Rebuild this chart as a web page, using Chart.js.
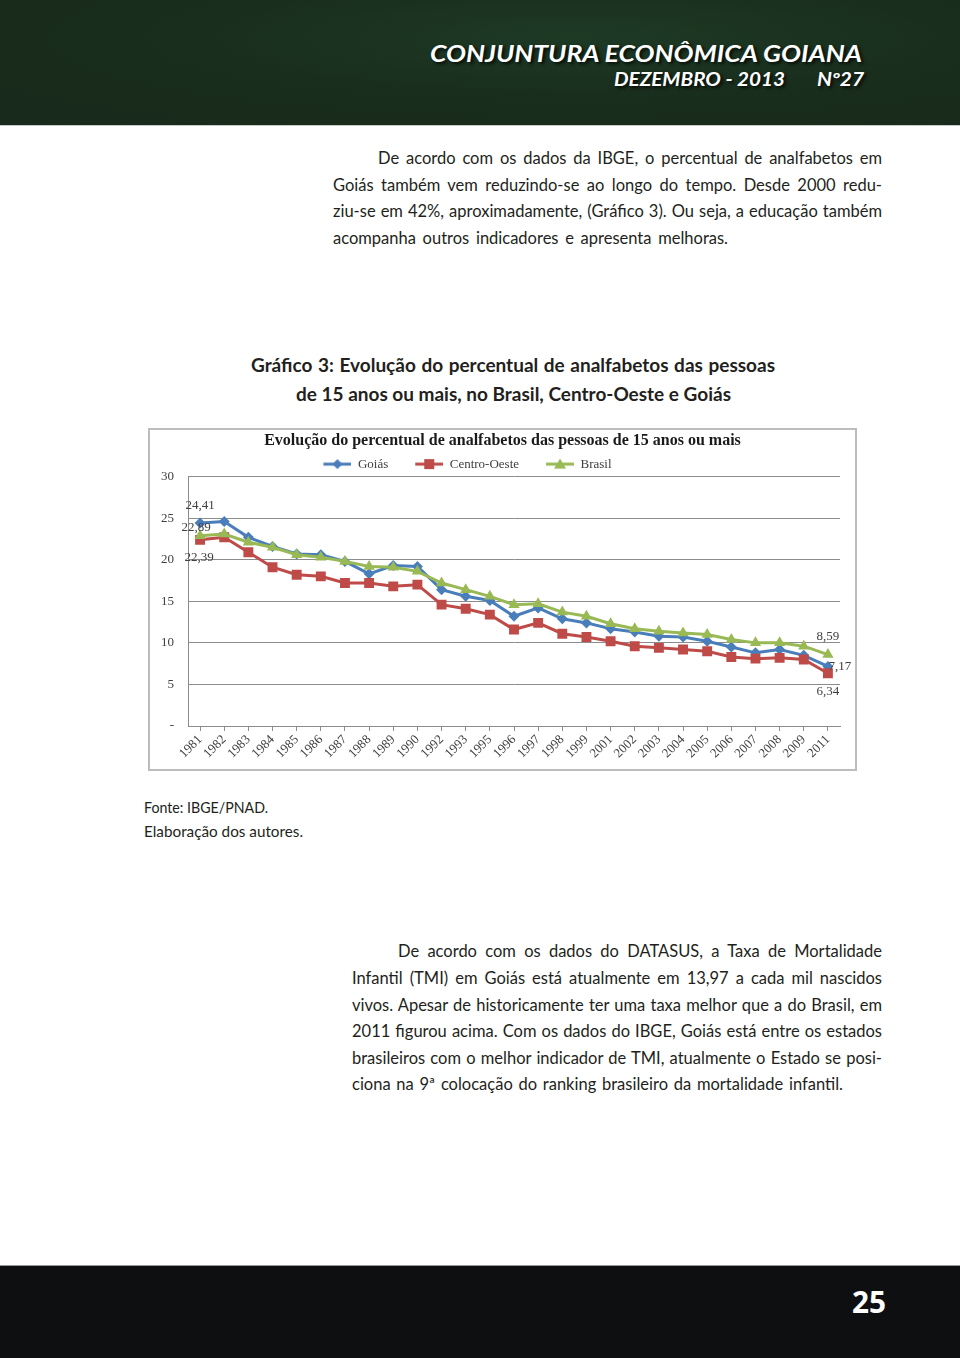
<!DOCTYPE html>
<html lang="pt-br">
<head>
<meta charset="UTF-8">
<title>Conjuntura Econômica Goiana | Gráfico 3</title>
<script src="https://cdn.jsdelivr.net/npm/chart.js@4"></script>
<style>
    * { margin: 0; padding: 0; }
    body { width: 960px; height: 1358px; position: relative; background: #fff; overflow: hidden; }
    .linha { position: absolute; white-space: nowrap; line-height: 1; color: #231f20; transform-origin: 0 0; }

    .topo {
        position: absolute; left: 0; top: 0; width: 960px; height: 125px;
        background: radial-gradient(ellipse at 60% 30%, #1d3a25 0%, #1a2e1d 45%, #182a1b 100%);
        border-bottom: 1px solid #c8c8c8;
    }
    .topo .linha { color: #fff; font-family: Lato, sans-serif; font-weight: 700; font-style: italic; text-shadow: 2px 2px 3px rgba(0, 0, 0, 0.8); }
    .t1 { font-size: 22.5px; }
    .t2 { font-size: 18px; }

    .texto { font-family: Lato, sans-serif; font-size: 16.5px; }
    .titulo { font-family: Lato, sans-serif; font-weight: 700; font-size: 19px; }
    .fonte { font-family: Lato, sans-serif; font-size: 15px; }

    .moldura { position: absolute; left: 148px; top: 428px; width: 709px; height: 343px; box-sizing: border-box; border: 2px solid #bdbdbd; }
    #grafico { position: absolute; left: 150px; top: 430px; }

    .rodape { position: absolute; left: 0; top: 1265px; width: 960px; height: 93px; background: #0e0f11; border-top: 1px solid #9a9a9a; }
    .pagina { color: #fff; font-family: "Open Sans", sans-serif; font-weight: 700; font-size: 30px; }
</style>
</head>
<body>

    <div class="topo">
        <div class="linha t1" style="left:430px; top:43px" data-w="432" data-modo="escala">CONJUNTURA ECONÔMICA GOIANA</div>
        <div class="linha t2" style="left:614px; top:70px" data-w="171" data-modo="escala">DEZEMBRO - 2013</div>
        <div class="linha t2" style="left:817px; top:70px" data-w="47" data-modo="escala">Nº27</div>
    </div>

    <div class="linha texto" style="left:378px; top:150px" data-w="504">De acordo com os dados da IBGE, o percentual de analfabetos em</div>
    <div class="linha texto" style="left:333px; top:176.7px" data-w="549">Goiás também vem reduzindo-se ao longo do tempo. Desde 2000 redu-</div>
    <div class="linha texto" style="left:333px; top:203.3px" data-w="549">ziu-se em 42%, aproximadamente, (Gráfico 3). Ou seja, a educação também</div>
    <div class="linha texto" style="left:333px; top:230px" data-w="395">acompanha outros indicadores e apresenta melhoras.</div>

    <div class="linha titulo" style="left:251px; top:355px" data-w="524">Gráfico 3: Evolução do percentual de analfabetos das pessoas</div>
    <div class="linha titulo" style="left:296px; top:384px" data-w="435">de 15 anos ou mais, no Brasil, Centro-Oeste e Goiás</div>

    <div class="moldura"></div>
    <canvas id="grafico" width="705" height="339"></canvas>

    <div class="linha fonte" style="left:144px; top:800px" data-w="124" data-modo="escala">Fonte: IBGE/PNAD.</div>
    <div class="linha fonte" style="left:144px; top:824px" data-w="159" data-modo="escala">Elaboração dos autores.</div>

    <div class="linha texto" style="left:398px; top:943.4px" data-w="484">De acordo com os dados do DATASUS, a Taxa de Mortalidade</div>
    <div class="linha texto" style="left:352px; top:970px" data-w="530">Infantil (TMI) em Goiás está atualmente em 13,97 a cada mil nascidos</div>
    <div class="linha texto" style="left:352px; top:996.6px" data-w="530">vivos. Apesar de historicamente ter uma taxa melhor que a do Brasil, em</div>
    <div class="linha texto" style="left:352px; top:1023.2px" data-w="530">2011 figurou acima. Com os dados do IBGE, Goiás está entre os estados</div>
    <div class="linha texto" style="left:352px; top:1049.8px" data-w="530">brasileiros com o melhor indicador de TMI, atualmente o Estado se posi-</div>
    <div class="linha texto" style="left:352px; top:1076.4px" data-w="491">ciona na 9ª colocação do ranking brasileiro da mortalidade infantil.</div>

    <div class="rodape"></div>
    <div class="linha pagina" style="left:852px; top:1287px" data-w="34" data-modo="escala">25</div>

<script>
    // dados (IBGE/PNAD)
    const anos = ['1981', '1982', '1983', '1984', '1985', '1986', '1987', '1988', '1989', '1990',
        '1992', '1993', '1995', '1996', '1997', '1998', '1999', '2001', '2002', '2003',
        '2004', '2005', '2006', '2007', '2008', '2009', '2011'];
    const goias = [24.41, 24.6, 22.7, 21.6, 20.7, 20.6, 19.8, 18.3, 19.3, 19.2,
        16.4, 15.6, 15.1, 13.2, 14.2, 12.9, 12.4, 11.7, 11.3, 10.8,
        10.7, 10.2, 9.5, 8.8, 9.2, 8.5, 7.17];
    const centroOeste = [22.39, 22.7, 20.9, 19.1, 18.2, 18.0, 17.2, 17.2, 16.8, 17.0,
        14.6, 14.1, 13.4, 11.6, 12.4, 11.1, 10.7, 10.2, 9.6, 9.4,
        9.2, 9.0, 8.3, 8.1, 8.2, 8.0, 6.34];
    const brasil = [22.89, 23.1, 22.1, 21.5, 20.6, 20.3, 19.8, 19.2, 19.1, 18.6,
        17.2, 16.4, 15.6, 14.6, 14.7, 13.7, 13.2, 12.3, 11.7, 11.4,
        11.2, 11.0, 10.4, 10.0, 10.0, 9.6, 8.59];
    const nomesSeries = ['Goiás', 'Centro-Oeste', 'Brasil'];

    const AZUL = '#4a7ebb';
    const VERMELHO = '#be4b48';
    const VERDE = '#98b954';
    const FONTE_SERIF = '"Liberation Serif", "Times New Roman", serif';

    // ícone da legenda: linha com o marcador no meio (com margem à esquerda)
    function iconeLegenda(cor, estilo) {
        const margem = 23;
        const c = document.createElement('canvas');
        c.width = margem + 28;
        c.height = 14;
        const ctx = c.getContext('2d');
        ctx.strokeStyle = cor;
        ctx.fillStyle = cor;
        ctx.lineWidth = 3;
        ctx.beginPath();
        ctx.moveTo(margem, 7);
        ctx.lineTo(margem + 28, 7);
        ctx.stroke();
        const cx = margem + 14;
        ctx.beginPath();
        if (estilo === 'losango') {
            ctx.moveTo(cx, 2); ctx.lineTo(cx + 5, 7); ctx.lineTo(cx, 12); ctx.lineTo(cx - 5, 7);
        } else if (estilo === 'quadrado') {
            ctx.rect(cx - 5, 2, 10, 10);
        } else {
            ctx.moveTo(cx, 1.5); ctx.lineTo(cx + 6, 11.5); ctx.lineTo(cx - 6, 11.5);
        }
        ctx.closePath();
        ctx.fill();
        return c;
    }
    const icones = [iconeLegenda(AZUL, 'losango'), iconeLegenda(VERMELHO, 'quadrado'), iconeLegenda(VERDE, 'triangulo')];

    // rótulos no primeiro e no último ponto de cada série
    const rotulosPontas = {
        id: 'rotulosPontas',
        afterDatasetsDraw(chart) {
            const ctx = chart.ctx;
            ctx.save();
            ctx.font = '13px ' + FONTE_SERIF;
            ctx.fillStyle = '#404040';
            ctx.textAlign = 'center';
            ctx.textBaseline = 'middle';
            chart.data.datasets.forEach((ds, i) => {
                const pontos = chart.getDatasetMeta(i).data;
                const ultimo = pontos.length - 1;
                [[0, ds.deslocInicio], [ultimo, ds.deslocFim]].forEach(([k, d]) => {
                    const texto = ds.data[k].toFixed(2).replace('.', ',');
                    ctx.fillText(texto, pontos[k].x + d[0], pontos[k].y + d[1]);
                });
            });
            ctx.restore();
        }
    };

    // título centrado na moldura; legenda um pouco à esquerda e mais perto do gráfico
    const ajusteCabecalho = {
        id: 'ajusteCabecalho',
        afterLayout(chart) {
            const tit = chart.titleBlock;
            if (tit) { tit.left += 7.5; tit.right += 7.5; }
            const leg = chart.legend;
            leg.left -= 39; leg.right -= 39;
            leg.top += 4; leg.bottom += 4;
        }
    };

    const serie = (nome, dados, cor, estilo, raio, ordem, ini, fim) => ({
        label: nome,
        data: dados,
        borderColor: cor,
        backgroundColor: cor,
        borderWidth: 3,
        pointStyle: estilo,
        pointRadius: raio,
        pointBorderWidth: 0,
        pointBackgroundColor: cor,
        tension: 0,
        order: ordem,
        deslocInicio: ini,
        deslocFim: fim
    });

    new Chart(document.getElementById('grafico'), {
        type: 'line',
        data: {
            labels: anos,
            datasets: [
                serie(nomesSeries[0], goias, AZUL, 'rectRot', 5.5, 3, [0, -17], [12, 0]),
                serie(nomesSeries[1], centroOeste, VERMELHO, 'rect', 7, 2, [-1, 18], [0, 18]),
                serie(nomesSeries[2], brasil, VERDE, 'triangle', 6.5, 1, [-4, -8], [0, -18])
            ]
        },
        options: {
            responsive: false,
            animation: false,
            devicePixelRatio: 1,
            layout: { padding: { top: 0, right: 15, bottom: 0, left: 0 } },
            plugins: {
                title: {
                    display: true,
                    text: 'Evolução do percentual de analfabetos das pessoas de 15 anos ou mais',
                    color: '#1a1a1a',
                    font: { family: FONTE_SERIF, size: 16, weight: 'bold', lineHeight: 1.1 },
                    padding: { top: 2, bottom: 0 }
                },
                legend: {
                    display: true,
                    position: 'top',
                    labels: {
                        usePointStyle: true,
                        pointStyleWidth: 51,
                        padding: 4,
                        color: '#404040',
                        font: { family: FONTE_SERIF, size: 13 },
                        sort: (a, b) => a.datasetIndex - b.datasetIndex,
                        generateLabels(chart) {
                            const itens = Chart.defaults.plugins.legend.labels.generateLabels(chart);
                            itens.forEach(it => { it.pointStyle = icones[it.datasetIndex]; });
                            return itens;
                        }
                    }
                },
                tooltip: { enabled: false }
            },
            scales: {
                x: {
                    offset: true,
                    grid: { drawOnChartArea: false, drawTicks: true, tickLength: 5, color: '#8c8c8c' },
                    border: { display: true, color: '#8c8c8c', width: 1 },
                    ticks: {
                        autoSkip: false,
                        minRotation: 45,
                        maxRotation: 45,
                        padding: 1,
                        color: '#404040',
                        font: { family: FONTE_SERIF, size: 13 }
                    },
                    afterFit(scale) { scale.height = 43; }
                },
                y: {
                    min: 0,
                    max: 30,
                    grid: { color: '#8c8c8c', lineWidth: 1, drawTicks: false },
                    border: { display: true, color: '#8c8c8c', width: 1 },
                    ticks: {
                        stepSize: 5,
                        padding: 14,
                        color: '#404040',
                        font: { family: FONTE_SERIF, size: 13 },
                        callback: v => v === 0 ? '-' : v
                    },
                    afterFit(scale) { scale.width = 38; }
                }
            }
        },
        plugins: [rotulosPontas, ajusteCabecalho]
    });

    // ajusta cada linha de texto à largura que ela ocupa na página
    function ajustarLinhas() {
        document.querySelectorAll('[data-w]').forEach(el => {
            const alvo = Number(el.dataset.w);
            const atual = el.getBoundingClientRect().width;
            if (el.dataset.modo === 'escala') {
                el.style.transform = `scaleX(${alvo / atual})`;
            } else {
                const espacos = (el.textContent.match(/ /g) || []).length;
                if (espacos) el.style.wordSpacing = ((alvo - atual) / espacos) + 'px';
            }
        });
    }
    ajustarLinhas();
</script>
</body>
</html>
